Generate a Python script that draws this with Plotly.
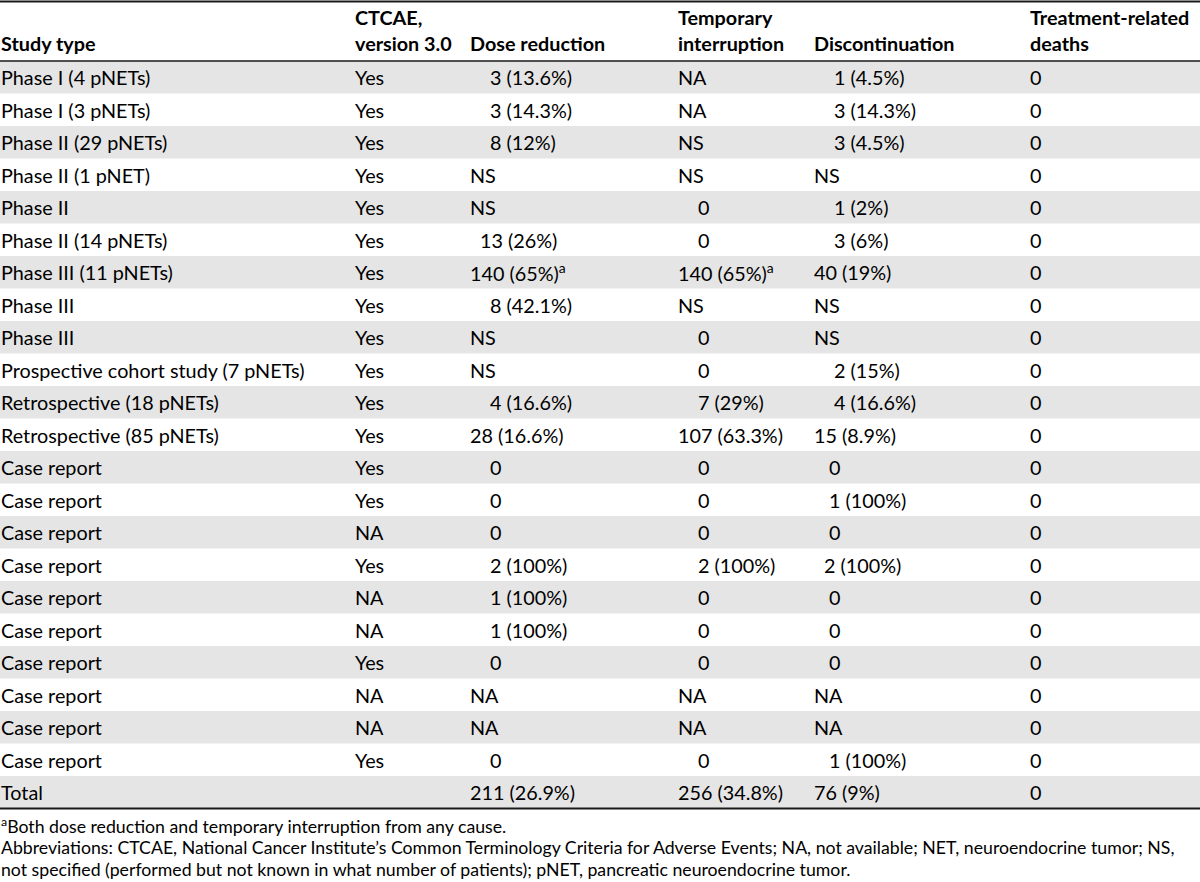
import plotly.graph_objects as go

# ---------------- data ----------------
headers = ["Study type", "CTCAE,<br>version 3.0", "Dose reduction",
           "Temporary<br>interruption", "Discontinuation", "Treatment-related<br>deaths"]

study_type = ["Phase I (4 pNETs)", "Phase I (3 pNETs)", "Phase II (29 pNETs)", "Phase II (1 pNET)",
              "Phase II", "Phase II (14 pNETs)", "Phase III (11 pNETs)", "Phase III", "Phase III",
              "Prospective cohort study (7 pNETs)", "Retrospective (18 pNETs)", "Retrospective (85 pNETs)",
              "Case report", "Case report", "Case report", "Case report", "Case report", "Case report",
              "Case report", "Case report", "Case report", "Case report", "Total"]
ctcae = ["Yes", "Yes", "Yes", "Yes", "Yes", "Yes", "Yes", "Yes", "Yes", "Yes", "Yes", "Yes",
         "Yes", "Yes", "NA", "Yes", "NA", "NA", "Yes", "NA", "NA", "Yes", ""]
dose_reduction = ["3 (13.6%)", "3 (14.3%)", "8 (12%)", "NS", "NS", "13 (26%)", "140 (65%)<sup>a</sup>",
                  "8 (42.1%)", "NS", "NS", "4 (16.6%)", "28 (16.6%)", "0", "0", "0", "2 (100%)",
                  "1 (100%)", "1 (100%)", "0", "NA", "NA", "0", "211 (26.9%)"]
temporary_interruption = ["NA", "NA", "NS", "NS", "0", "0", "140 (65%)<sup>a</sup>", "NS", "0", "0",
                          "7 (29%)", "107 (63.3%)", "0", "0", "0", "2 (100%)", "0", "0", "0", "NA",
                          "NA", "0", "256 (34.8%)"]
discontinuation = ["1 (4.5%)", "3 (14.3%)", "3 (4.5%)", "NS", "1 (2%)", "3 (6%)", "40 (19%)", "NS", "NS",
                   "2 (15%)", "4 (16.6%)", "15 (8.9%)", "0", "1 (100%)", "0", "2 (100%)", "0", "0", "0",
                   "NA", "NA", "1 (100%)", "76 (9%)"]
deaths = ["0"] * 23

footnotes = ["<sup>a</sup>Both dose reduction and temporary interruption from any cause.",
             "Abbreviations: CTCAE, National Cancer Institute’s Common Terminology Criteria for Adverse Events; "
             "NA, not available; NET, neuroendocrine tumor; NS,",
             "not specified (performed but not known in what number of patients); pNET, pancreatic neuroendocrine tumor."]

# ---------------- style / layout ----------------
W, H = 1200, 882
FONT = "Lato"
BODY_SIZE = 19.8
FOOT_SIZE = 17.7
HEADER_H = 61
ROW_H = 32.5
GRAY = "#e5e5e5"
col_x = [1, 355, 470, 678, 814, 1030]
digit_w = 10.0

# per-cell indent (in digit widths) used to align numbers as in the source
dose_indent = [2, 2, 2, 0, 0, 1, 0, 2, 0, 0, 2, 0, 2, 2, 2, 2, 2, 2, 2, 0, 0, 2, 0]
temp_indent = [0, 0, 0, 0, 2, 2, 0, 0, 2, 2, 2, 0, 2, 2, 2, 2, 2, 2, 2, 0, 0, 2, 0]
disc_indent = [2, 2, 2, 0, 2, 2, 0, 0, 0, 2, 2, 0, 1.5, 1.5, 1.5, 1, 1.5, 1.5, 1.5, 0, 0, 1.5, 0]
zero_indent = [0] * 23

columns = [study_type, ctcae, dose_reduction, temporary_interruption, discontinuation, deaths]
indents = [zero_indent, zero_indent, dose_indent, temp_indent, disc_indent, zero_indent]

n_rows = len(study_type)
row_y = [HEADER_H + ROW_H * (i + 0.5) for i in range(n_rows)]
table_bottom = HEADER_H + ROW_H * n_rows

fig = go.Figure()
shapes = []
annotations = []

# row shading
for i in range(n_rows):
    if i % 2 == 0:
        shapes.append(dict(type="rect", xref="x", yref="y", x0=0, x1=W,
                           y0=HEADER_H + ROW_H * i, y1=HEADER_H + ROW_H * (i + 1),
                           fillcolor=GRAY, line=dict(width=0), layer="below"))

# rules
shapes.append(dict(type="line", xref="x", yref="y", x0=0, x1=W, y0=1.5, y1=1.5,
                   line=dict(color="#1a1a1a", width=2)))
shapes.append(dict(type="line", xref="x", yref="y", x0=0, x1=W, y0=HEADER_H, y1=HEADER_H,
                   line=dict(color="#1a1a1a", width=1.6)))
shapes.append(dict(type="line", xref="x", yref="y", x0=0, x1=W, y0=table_bottom, y1=table_bottom,
                   line=dict(color="#1a1a1a", width=2)))

# headers (bottom aligned)
for j, h in enumerate(headers):
    annotations.append(dict(x=col_x[j], y=HEADER_H - 6, xref="x", yref="y", text="<b>" + h + "</b>",
                            xanchor="left", yanchor="bottom", align="left", showarrow=False,
                            borderpad=0, borderwidth=0,
                            font=dict(family=FONT, size=BODY_SIZE, color="black")))

# cells
for j, col in enumerate(columns):
    for i, txt in enumerate(col):
        if txt == "":
            continue
        annotations.append(dict(x=col_x[j] + indents[j][i] * digit_w, y=row_y[i], xref="x", yref="y",
                                text=txt, xanchor="left", yanchor="middle", align="left",
                                showarrow=False, borderpad=0, borderwidth=0,
                                font=dict(family=FONT, size=BODY_SIZE, color="black")))

# footnotes
foot_y0 = table_bottom + 17
for k, t in enumerate(footnotes):
    annotations.append(dict(x=col_x[0], y=foot_y0 + 22 * k, xref="x", yref="y", text=t,
                            xanchor="left", yanchor="middle", align="left", showarrow=False,
                            borderpad=0, borderwidth=0,
                            font=dict(family=FONT, size=FOOT_SIZE, color="black")))

fig.update_layout(
    width=W, height=H,
    margin=dict(l=0, r=0, t=0, b=0),
    paper_bgcolor="white", plot_bgcolor="white",
    xaxis=dict(range=[0, W], visible=False, fixedrange=True),
    yaxis=dict(range=[H, 0], visible=False, fixedrange=True),
    shapes=shapes, annotations=annotations, showlegend=False,
)

fig.write_html("out.html", config={"displayModeBar": False},
               post_script="document.body.style.margin='0';document.body.style.overflow='hidden';")
